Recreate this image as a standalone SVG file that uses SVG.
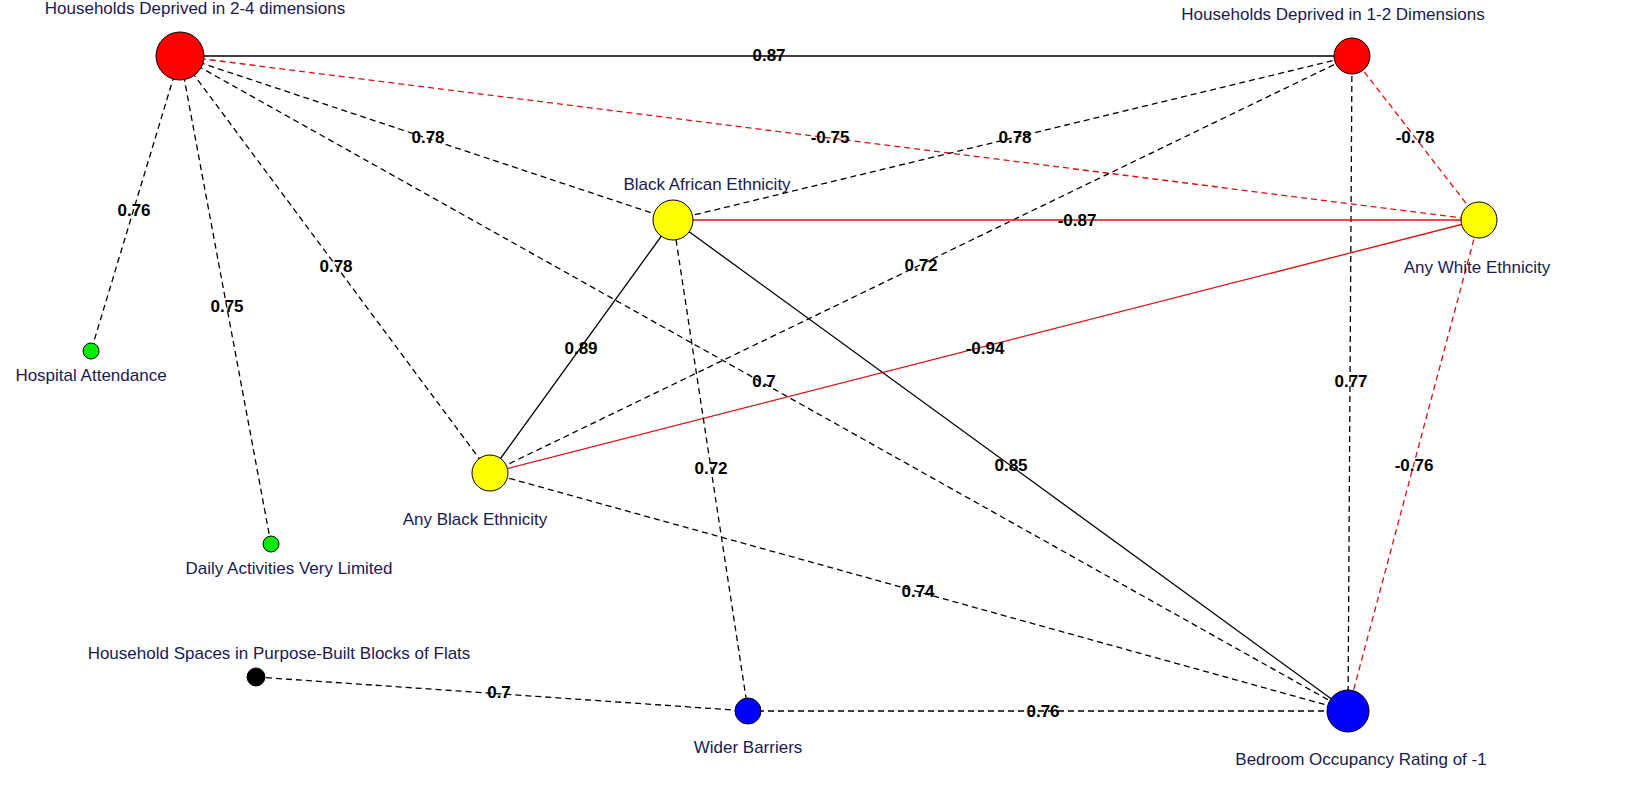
<svg xmlns="http://www.w3.org/2000/svg" width="1629" height="800" viewBox="0 0 1629 800">
<style>
.e{stroke:#000;stroke-width:1.3;fill:none}
.d{stroke-dasharray:6,4}
.r{stroke:#e01010}
.n{stroke:#000;stroke-width:1}
.t{font-family:"Liberation Sans",Arial,sans-serif;font-size:17px;fill:#1a1a50;text-anchor:middle}
.w{font-family:"Liberation Sans",Arial,sans-serif;font-size:17px;font-weight:bold;fill:#000;text-anchor:middle}
</style>
<rect width="1629" height="800" fill="#fff"/>
<g id="connectors">
<line class="e" x1="180" y1="56" x2="1352" y2="56"/>
<line class="e d r" x1="180" y1="56" x2="1479" y2="220"/>
<line class="e d" x1="180" y1="56" x2="673" y2="220"/>
<line class="e d" x1="180" y1="56" x2="91" y2="351"/>
<line class="e d" x1="180" y1="56" x2="271" y2="544"/>
<line class="e d" x1="180" y1="56" x2="490" y2="473"/>
<line class="e d" x1="180" y1="56" x2="1348" y2="711"/>
<line class="e d" x1="1352" y1="56" x2="673" y2="220"/>
<line class="e d" x1="1352" y1="56" x2="490" y2="473"/>
<line class="e d r" x1="1352" y1="56" x2="1479" y2="220"/>
<line class="e d" x1="1352" y1="56" x2="1348" y2="711"/>
<line class="e r" x1="673" y1="220" x2="1479" y2="220"/>
<line class="e r" x1="490" y1="473" x2="1479" y2="220"/>
<line class="e" x1="673" y1="220" x2="490" y2="473"/>
<line class="e" x1="673" y1="220" x2="1348" y2="711"/>
<line class="e d" x1="673" y1="220" x2="748" y2="711"/>
<line class="e d" x1="490" y1="473" x2="1348" y2="711"/>
<line class="e d r" x1="1479" y1="220" x2="1348" y2="711"/>
<line class="e d" x1="256" y1="677" x2="748" y2="711"/>
<line class="e d" x1="748" y1="711" x2="1348" y2="711"/>
</g>
<g id="edge-labels">
<text class="w" x="769" y="61">0.87</text>
<text class="w" x="830" y="143">-0.75</text>
<text class="w" x="428" y="143">0.78</text>
<text class="w" x="134" y="216">0.76</text>
<text class="w" x="227" y="312">0.75</text>
<text class="w" x="336" y="272">0.78</text>
<text class="w" x="764" y="387">0.7</text>
<text class="w" x="1015" y="143">0.78</text>
<text class="w" x="921" y="271">0.72</text>
<text class="w" x="1415" y="143">-0.78</text>
<text class="w" x="1351" y="387">0.77</text>
<text class="w" x="1077" y="226">-0.87</text>
<text class="w" x="985" y="354">-0.94</text>
<text class="w" x="581" y="354">0.89</text>
<text class="w" x="1011" y="471">0.85</text>
<text class="w" x="711" y="474">0.72</text>
<text class="w" x="918" y="597">0.74</text>
<text class="w" x="1414" y="471">-0.76</text>
<text class="w" x="499" y="698">0.7</text>
<text class="w" x="1043" y="717">0.76</text>
</g>
<g id="hd24"><circle class="n" cx="180" cy="56" r="24" fill="#ff0000"/><text class="t" x="195" y="14">Households Deprived in 2-4 dimensions</text></g>
<g id="hd12"><circle class="n" cx="1352" cy="56" r="18" fill="#ff0000"/><text class="t" x="1333" y="20">Households Deprived in 1-2 Dimensions</text></g>
<g id="bae"><circle class="n" cx="673" cy="220" r="20" fill="#ffff00"/><text class="t" x="707" y="190">Black African Ethnicity</text></g>
<g id="awe"><circle class="n" cx="1479" cy="220" r="18" fill="#ffff00"/><text class="t" x="1477" y="273">Any White Ethnicity</text></g>
<g id="abe"><circle class="n" cx="490" cy="473" r="18" fill="#ffff00"/><text class="t" x="475" y="525">Any Black Ethnicity</text></g>
<g id="hosp"><circle class="n" cx="91" cy="351" r="8" fill="#00ee00"/><text class="t" x="91" y="381">Hospital Attendance</text></g>
<g id="daily"><circle class="n" cx="271" cy="544" r="8" fill="#00ee00"/><text class="t" x="289" y="574">Daily Activities Very Limited</text></g>
<g id="hspb"><circle class="n" cx="256" cy="677" r="9" fill="#000"/><text class="t" x="279" y="659">Household Spaces in Purpose-Built Blocks of Flats</text></g>
<g id="wider"><circle class="n" cx="748" cy="711" r="13" fill="#0000ff"/><text class="t" x="748" y="753">Wider Barriers</text></g>
<g id="bor"><circle class="n" cx="1348" cy="711" r="21" fill="#0000ff"/><text class="t" x="1361" y="765">Bedroom Occupancy Rating of -1</text></g>
</svg>
